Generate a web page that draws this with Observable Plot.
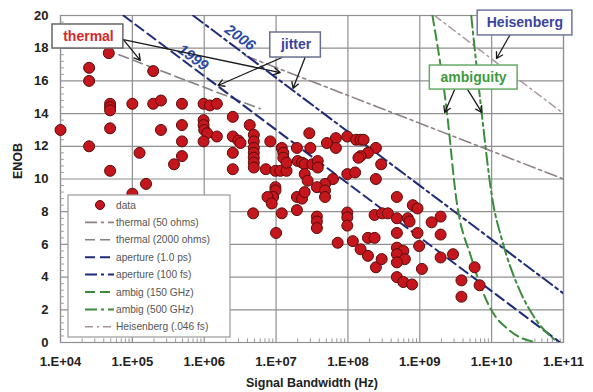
<!DOCTYPE html>
<html><head><meta charset="utf-8">
<script src="https://cdn.jsdelivr.net/npm/d3@7"></script>
<script src="https://cdn.jsdelivr.net/npm/@observablehq/plot@0.6"></script>
<style>body{margin:0;background:#fff}#chart{width:593px;height:392px}</style>
</head><body><div id="chart"></div>
<script>
// ---- data (signal bandwidth in Hz, ENOB) ----
const dataBandwidth = [
 1.0e4,2.5e4,2.5e4,2.5e4,4.7e4,4.9e4,4.9e4,4.9e4,4.9e4,4.9e4,
 1.0e5,1.0e5,1.26e5,1.55e5,1.95e5,1.95e5,2.5e5,2.5e5,3.8e5,4.9e5,
 4.9e5,4.9e5,4.9e5,9.8e5,1.2e6,1.5e6,9.8e5,9.8e5,1.0e6,1.1e6,
 9.8e5,1.5e6,2.5e6,2.5e6,3.0e6,3.2e6,2.5e6,2.5e6,4.3e6,4.9e6,
 4.9e6,4.9e6,4.9e6,4.9e6,4.9e6,4.9e6,8.3e6,7.2e6,9.8e6,1.15e7,
 1.4e7,1.2e7,1.26e7,1.26e7,1.4e7,1.95e7,2.0e7,2.3e7,2.5e7,2.9e7,
 2.5e7,2.75e7,9.8e6,9.8e6,9.1e6,7.6e6,8.7e6,1.95e7,2.3e7,2.5e7,
 4.8e6,1.2e7,1.95e7,1.0e7,3.0e7,6.8e7,6.8e7,5.1e7,9.8e7,1.3e8,
 1.5e8,1.65e8,2.45e8,1.9e8,1.5e8,1.4e8,2.9e8,3.2e7,3.8e7,3.8e7,
 9.8e7,1.26e8,2.45e8,6.2e7,4.8e7,3.7e7,4.8e7,4.8e7,3.7e7,3.7e7,
 3.7e7,9.8e7,9.8e7,9.8e7,2.35e8,3.0e8,3.6e8,4.8e8,6.8e8,7.2e8,
 4.8e8,8.0e8,9.3e8,7.2e7,1.17e8,1.5e8,1.9e8,2.35e8,1.9e8,2.45e8,
 2.95e8,4.8e8,9.3e8,9.8e8,4.8e8,5.9e8,4.8e8,6.2e8,4.8e8,1.07e9,
 4.8e8,5.9e8,7.8e8,1.46e9,1.95e9,1.95e9,1.95e9,2.9e9,5.8e9,3.8e9,
 6.8e9,3.8e9
];
const dataEnob = [
 13.0,16.8,16.0,12.0,17.7,14.6,14.4,14.2,13.1,10.5,
 14.6,9.1,11.6,9.7,16.6,14.6,14.8,13.0,10.9,14.6,
 13.3,12.3,11.4,14.6,14.5,14.6,13.6,13.3,13.0,12.8,
 12.3,12.6,13.8,12.6,12.35,12.2,11.6,10.6,13.3,12.7,
 12.3,11.9,11.6,11.3,11.0,10.7,12.3,10.6,10.5,10.5,
 10.5,11.9,11.6,11.3,11.0,11.9,11.1,11.0,10.9,12.8,
 10.3,9.9,9.5,9.3,8.9,8.9,8.5,8.9,8.8,9.2,
 7.9,7.9,8.1,6.7,11.9,12.5,11.9,12.2,12.6,12.4,
 12.4,12.4,11.9,11.6,11.4,11.3,10.9,10.9,11.1,10.7,
 10.3,10.4,10.0,10.0,9.7,9.5,9.3,8.9,7.7,7.4,
 7.0,7.95,7.65,7.15,7.8,7.9,7.9,7.6,7.6,7.4,
 8.9,8.4,8.2,6.1,6.2,5.7,6.4,6.4,5.3,4.6,
 5.1,6.7,6.7,5.9,5.8,5.6,5.4,5.1,4.9,4.5,
 4.0,3.7,3.55,7.35,7.7,6.6,5.2,5.4,4.6,3.8,
 3.5,2.8
];

// model lines (Hz, ENOB)
const thermal50X = [3.7e6, 1e11],            thermal50Y = [17.55, 10.0];
const thermal2000X = [6.5e4, 6.0e6],         thermal2000Y = [17.6, 14.3];
const aperture1psX = [7.5e4, 9e10],          aperture1psY = [20, 0];
const aperture100fsX = [7.0e5, 1e11],        aperture100fsY = [20, 3.0];
const ambig150X = [1.5e9, 2.37e9, 3.24e9, 5.2e9, 9.3e9, 1.78e10, 4.2e10];
const ambig150Y = [20, 14.2, 8.7, 5.2, 2.2, 0.73, 0];
const ambig500X = [5.2e9, 7.2e9, 1.03e10, 1.41e10, 2.45e10, 4.2e10, 7.9e10];
const ambig500Y = [20, 14.2, 8.7, 6.2, 3.2, 1.35, 0.1];
const heisenbergX = [1.6e9, 1e11],           heisenbergY = [20, 14.0];

// ticks
const xTicks = [1e4,1e5,1e6,1e7,1e8,1e9,1e10,1e11];
const xTickLabels = ["1.E+04","1.E+05","1.E+06","1.E+07","1.E+08","1.E+09","1.E+10","1.E+11"];
const yTicks = [0,2,4,6,8,10,12,14,16,18,20];

// legend entries
const legendLabels = ["data","thermal (50 ohms)","thermal (2000 ohms)","aperture (1.0 ps)","aperture (100 fs)","ambig (150 GHz)","ambig (500 GHz)","Heisenberg (.046 fs)"];

// ---- build ----
const points = dataBandwidth.map((b,i)=>({bw:b, enob:dataEnob[i]}));
const toPts = (xs,ys)=>xs.map((x,i)=>({x, y:ys[i]}));

const C = {
  thermal: "#858085", thermal50: "#8e8088", aperture: "#1e2b7a", ambig: "#3d8c3d", heis: "#a6939e"
};
const styles = {
  thermal50: {stroke: C.thermal50, strokeWidth: 1.6, strokeDasharray: "12,4,3,4"},
  thermal2000: {stroke: C.thermal, strokeWidth: 1.6, strokeDasharray: "10,5"},
  aperture1ps: {stroke: C.aperture, strokeWidth: 2, strokeDasharray: "10,5"},
  aperture100fs: {stroke: C.aperture, strokeWidth: 2, strokeDasharray: "12,4,3,4"},
  ambig150: {stroke: C.ambig, strokeWidth: 2, strokeDasharray: "10,5"},
  ambig500: {stroke: C.ambig, strokeWidth: 2, strokeDasharray: "12,4,3,4"},
  heis: {stroke: C.heis, strokeWidth: 1.4, strokeDasharray: "8,4,2,4"}
};

const minorX = [];
for (let e = 4; e < 11; e++) for (let m = 2; m <= 9; m++) minorX.push(m * Math.pow(10, e));
const minorY = d3.range(0, 20.01, 0.4).filter(v => Math.abs(v/2 - Math.round(v/2)) > 1e-6);

const boxes = [
  {x1: 7.74e3, x2: 7.5e4, y1: 17.98, y2: 19.45, stroke: "#666"},
  {x1: 8.3e6, x2: 4.2e7, y1: 17.43, y2: 18.96, stroke: "#6a6f90"},
  {x1: 6.4e9, x2: 1.33e11, y1: 18.78, y2: 20.3, stroke: "#6f76a0"},
  {x1: 1.38e9, x2: 2.3e10, y1: 15.47, y2: 16.94, stroke: "#66aa66"}
];
const boxTexts = [
  {x: 2.45e4, y: 18.72, t: "thermal", c: "#d42a2a"},
  {x: 1.9e7, y: 18.2, t: "jitter", c: "#3b449e"},
  {x: 2.9e10, y: 19.55, t: "Heisenberg", c: "#3b449e"},
  {x: 5.6e9, y: 16.2, t: "ambiguity", c: "#3f9a3f"}
];
const arrows = [
  {x1: 7.5e4, y1: 18.53, x2: 1.29e5, y2: 17.25},
  {x1: 7.5e4, y1: 18.53, x2: 1.14e7, y2: 16.51},
  {x1: 1.21e7, y1: 17.43, x2: 1.56e6, y2: 15.72},
  {x1: 2.53e7, y1: 17.43, x2: 1.72e7, y2: 15.54},
  {x1: 1.78e10, y1: 18.78, x2: 1.17e10, y2: 17.37},
  {x1: 3.06e9, y1: 15.47, x2: 2.22e9, y2: 14.07},
  {x1: 4.64e9, y1: 15.47, x2: 7.3e9, y2: 14.07}
];
const yearLabels = [
  {x: 7.0e5, y: 17.43, t: "1999"},
  {x: 3.16e6, y: 18.65, t: "2006"}
];

const grid = "#8f8f8f";
const chart = Plot.plot({
  width: 593, height: 392,
  marginLeft: 60, marginRight: 30, marginTop: 15, marginBottom: 50,
  style: {fontFamily: "'Liberation Sans', Arial, sans-serif", background: "#fff", color: "#222"},
  x: {type: "log", domain: [1e4, 1e11]},
  y: {domain: [0, 20]},
  marks: [
    Plot.gridX(xTicks, {stroke: grid, strokeOpacity: 1, strokeWidth: 1.2}),
    Plot.gridY(yTicks, {stroke: grid, strokeOpacity: 1, strokeWidth: 1.2}),
    Plot.frame({stroke: grid, strokeWidth: 1.2}),
    Plot.ruleX(minorX, {y1: 0, y2: 0.22, stroke: "#999"}),
    Plot.ruleY(minorY, {x1: 1e4, x2: 1.13e4, stroke: "#999"}),
    Plot.line(toPts(thermal2000X, thermal2000Y), {x: "x", y: "y", clip: true, ...styles.thermal2000}),
    Plot.line(toPts(thermal50X, thermal50Y), {x: "x", y: "y", clip: true, ...styles.thermal50}),
    Plot.line(toPts(heisenbergX, heisenbergY), {x: "x", y: "y", clip: true, ...styles.heis}),
    Plot.line(toPts(aperture1psX, aperture1psY), {x: "x", y: "y", clip: true, ...styles.aperture1ps}),
    Plot.line(toPts(aperture100fsX, aperture100fsY), {x: "x", y: "y", clip: true, ...styles.aperture100fs}),
    Plot.line(toPts(ambig150X, ambig150Y), {x: "x", y: "y", clip: true, curve: "monotone-x", ...styles.ambig150}),
    Plot.line(toPts(ambig500X, ambig500Y), {x: "x", y: "y", clip: true, curve: "monotone-x", ...styles.ambig500}),
    Plot.dot(points, {x: "bw", y: "enob", r: 5.5, fill: "#c4161c", stroke: "#5a0a0a", strokeWidth: 1}),
    Plot.text(yearLabels, {x: "x", y: "y", text: "t", rotate: 36, fontSize: 15, fontWeight: "bold", fontStyle: "italic", fill: "#2c4ba2"}),
    Plot.arrow(arrows, {x1: "x1", y1: "y1", x2: "x2", y2: "y2", stroke: "#1a1a1a", strokeWidth: 1.3, headLength: 8}),
    Plot.rect(boxes, {x1: "x1", x2: "x2", y1: "y1", y2: "y2", fill: "#fff", stroke: "stroke", strokeWidth: 1.5}),
    Plot.text(boxTexts, {x: "x", y: "y", text: "t", fill: "c", fontSize: 14, fontWeight: "bold"}),
    Plot.axisX({ticks: xTicks, tickFormat: d => xTickLabels[xTicks.indexOf(d)], tickSize: 0, tickPadding: 14, fontSize: 13, fontWeight: "bold", label: null}),
    Plot.axisY({ticks: yTicks, tickSize: 0, tickPadding: 12, fontSize: 13, fontWeight: "bold", label: null}),
    Plot.text(["Signal Bandwidth (Hz)"], {frameAnchor: "bottom", dy: 40, fontSize: 12.5, fontWeight: "bold", lineAnchor: "middle"}),
    Plot.text(["ENOB"], {frameAnchor: "left", dx: -43, rotate: -90, fontSize: 12.5, fontWeight: "bold", lineAnchor: "middle"})
  ]
});

// ---- legend (inside plot area, lower left) ----
const svg = d3.select(chart);
const lg = svg.append("g").attr("font-family", "'Liberation Sans', Arial, sans-serif").attr("text-anchor", "start");
lg.append("rect").attr("x", 68).attr("y", 195).attr("width", 162).attr("height", 142)
  .attr("fill", "#fff").attr("stroke", "#999").attr("stroke-width", 1.2);
const legendStyles = [null, styles.thermal50, styles.thermal2000, styles.aperture1ps, styles.aperture100fs, styles.ambig150, styles.ambig500, styles.heis];
legendLabels.forEach((lab, i) => {
  const y = 205 + i * 17.4;
  if (i === 0) {
    lg.append("circle").attr("cx", 100).attr("cy", y).attr("r", 4.5).attr("fill", "#c4161c").attr("stroke", "#5a0a0a");
  } else {
    const s = legendStyles[i];
    lg.append("line").attr("x1", 85).attr("x2", 114).attr("y1", y).attr("y2", y)
      .attr("stroke", s.stroke).attr("stroke-width", s.strokeWidth).attr("stroke-dasharray", s.strokeDasharray);
  }
  lg.append("text").attr("x", 116).attr("y", y).attr("dy", "0.35em").attr("text-anchor", "start")
    .attr("font-size", 10.2).attr("fill", "#555").text(lab);
});

document.getElementById("chart").appendChild(chart);
</script>
</body></html>
